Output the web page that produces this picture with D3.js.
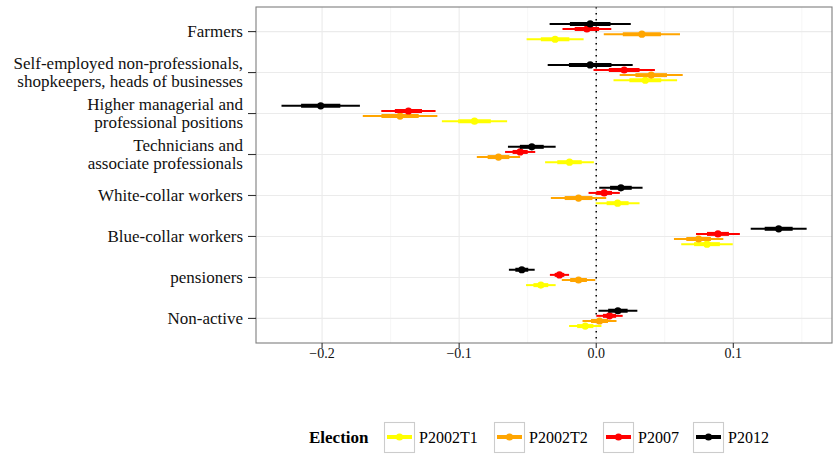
<!DOCTYPE html>
<html>
<head>
<meta charset="utf-8">
<script src="https://cdn.jsdelivr.net/npm/d3@7"></script>
<style>
  body { margin: 0; background: #fff; }
  svg { display: block; font-family: "Liberation Serif", serif; }
</style>
</head>
<body>
<svg width="840" height="454"></svg>
<script>
const categories = ['Farmers', 'Self-employed non-professionals,\nshopkeepers, heads of businesses',
  'Higher managerial and\nprofessional positions', 'Technicians and\nassociate professionals',
  'White-collar workers', 'Blue-collar workers', 'pensioners', 'Non-active'];
const elections = ['P2002T1', 'P2002T2', 'P2007', 'P2012'];
const colors = ['#ffff00', '#ffa500', '#ff0000', '#000000'];

// point estimates, one value per category
const estP2002T1 = [-0.030, 0.0358, -0.0888, -0.0195, 0.0156, 0.0808, -0.0404, -0.008];
const estP2002T2 = [0.0333, 0.0401, -0.1431, -0.0713, -0.0129, 0.0747, -0.0129, 0.0024];
const estP2007 = [-0.0068, 0.0204, -0.137, -0.0555, 0.0058, 0.0888, -0.0268, 0.0097];
const estP2012 = [-0.0044, -0.0044, -0.201, -0.047, 0.018, 0.1331, -0.0543, 0.0158];
// standard errors (thick bar = +-1 se, thin bar = +-2 se)
const seP2002T1 = [0.0104, 0.0116, 0.0119, 0.0089, 0.0080, 0.0094, 0.0054, 0.0059];
const seP2002T2 = [0.0139, 0.0115, 0.0136, 0.0079, 0.0101, 0.0090, 0.0061, 0.0062];
const seP2007 = [0.0089, 0.0112, 0.0099, 0.0055, 0.0057, 0.0080, 0.0035, 0.0048];
const seP2012 = [0.0148, 0.0155, 0.0143, 0.0087, 0.0079, 0.0102, 0.0047, 0.0071];
const xTicks = [-0.2, -0.1, 0.0, 0.1];
const xMinor = [-0.15, -0.05, 0.05, 0.15];

const estimates = [estP2002T1, estP2002T2, estP2007, estP2012];
const ses = [seP2002T1, seP2002T2, seP2007, seP2012];

const svg = d3.select('svg');
const panel = { left: 256, right: 832, top: 7, bottom: 343 };

const x = d3.scaleLinear().domain([-0.2482, 0.172]).range([panel.left, panel.right]);
const y = d3.scalePoint().domain(categories).range([panel.top, panel.bottom]).padding(0.6);
const dodge = y.step() * 0.125;

const g = svg.append('g');

// grid
g.selectAll('.minor').data(xMinor).join('line')
  .attr('x1', d => x(d)).attr('x2', d => x(d))
  .attr('y1', panel.top).attr('y2', panel.bottom)
  .attr('stroke', '#f4f4f4').attr('stroke-width', 0.8);
g.selectAll('.major').data(xTicks).join('line')
  .attr('x1', d => x(d)).attr('x2', d => x(d))
  .attr('y1', panel.top).attr('y2', panel.bottom)
  .attr('stroke', '#ebebeb').attr('stroke-width', 1.1);
g.selectAll('.hgrid').data(categories).join('line')
  .attr('x1', panel.left).attr('x2', panel.right)
  .attr('y1', d => y(d)).attr('y2', d => y(d))
  .attr('stroke', '#ebebeb').attr('stroke-width', 1.1);

// zero reference line
g.append('line')
  .attr('x1', x(0)).attr('x2', x(0))
  .attr('y1', panel.top).attr('y2', panel.bottom)
  .attr('stroke', '#000').attr('stroke-width', 1.5)
  .attr('stroke-dasharray', '1.5,4.5').attr('stroke-linecap', 'butt');

// estimates
elections.forEach((el, i) => {
  const off = (1.5 - i) * dodge;
  const rows = categories.map((c, j) => ({ c, est: estimates[i][j], se: ses[i][j] }));
  const grp = g.append('g');
  grp.selectAll('.outer').data(rows).join('line')
    .attr('x1', d => x(d.est - 2 * d.se)).attr('x2', d => x(d.est + 2 * d.se))
    .attr('y1', d => y(d.c) + off).attr('y2', d => y(d.c) + off)
    .attr('stroke', colors[i]).attr('stroke-width', 2);
  grp.selectAll('.inner').data(rows).join('line')
    .attr('x1', d => x(d.est - d.se)).attr('x2', d => x(d.est + d.se))
    .attr('y1', d => y(d.c) + off).attr('y2', d => y(d.c) + off)
    .attr('stroke', colors[i]).attr('stroke-width', 4);
  grp.selectAll('circle').data(rows).join('circle')
    .attr('cx', d => x(d.est)).attr('cy', d => y(d.c) + off)
    .attr('r', 3.6).attr('fill', colors[i]);
});

// panel border
g.append('rect')
  .attr('x', panel.left).attr('y', panel.top)
  .attr('width', panel.right - panel.left).attr('height', panel.bottom - panel.top)
  .attr('fill', 'none').attr('stroke', '#7f7f7f').attr('stroke-width', 1.1);

// x axis
const xa = svg.append('g').attr('transform', `translate(0,${panel.bottom})`);
xa.selectAll('line').data(xTicks).join('line')
  .attr('x1', d => x(d)).attr('x2', d => x(d)).attr('y1', 0).attr('y2', 5)
  .attr('stroke', '#333').attr('stroke-width', 1.1);
xa.selectAll('text').data(xTicks).join('text')
  .attr('x', d => x(d)).attr('y', 15)
  .attr('text-anchor', 'middle').attr('font-size', 14).attr('fill', '#111')
  .text(d => d3.format('.1f')(d).replace('-', '\u2212'));

// y axis
const ya = svg.append('g');
ya.selectAll('line').data(categories).join('line')
  .attr('x1', panel.left - 8).attr('x2', panel.left).attr('y1', d => y(d)).attr('y2', d => y(d))
  .attr('stroke', '#333').attr('stroke-width', 1.1);
categories.forEach(c => {
  const lines = c.split('\n');
  const t = ya.append('text')
    .attr('text-anchor', 'end')
    .attr('font-size', 17).attr('fill', '#111');
  lines.forEach((ln, k) => {
    t.append('tspan').attr('x', 243)
      .attr('y', y(c) + 5.5 + (k - (lines.length - 1) / 2) * 18)
      .text(ln);
  });
});

// legend
const legY = 437;
svg.append('text').attr('x', 309).attr('y', legY + 5.5)
  .attr('font-size', 17).attr('font-weight', 'bold').attr('fill', '#000').text('Election');
const keyX = [384, 494, 603, 693];
elections.forEach((el, i) => {
  const k = svg.append('g').attr('transform', `translate(${keyX[i]},${legY - 15})`);
  k.append('rect').attr('x', 0.5).attr('y', 0.5).attr('width', 30).attr('height', 30)
    .attr('fill', '#fff').attr('stroke', '#cccccc').attr('stroke-width', 1.1);
  k.append('line').attr('x1', 3).attr('x2', 28).attr('y1', 15).attr('y2', 15)
    .attr('stroke', colors[i]).attr('stroke-width', 4);
  k.append('circle').attr('cx', 15.5).attr('cy', 15).attr('r', 3.6).attr('fill', colors[i]);
  svg.append('text').attr('x', keyX[i] + 35).attr('y', legY + 5.5)
    .attr('font-size', 16).attr('fill', '#000').text(el);
});
</script>
</body>
</html>
